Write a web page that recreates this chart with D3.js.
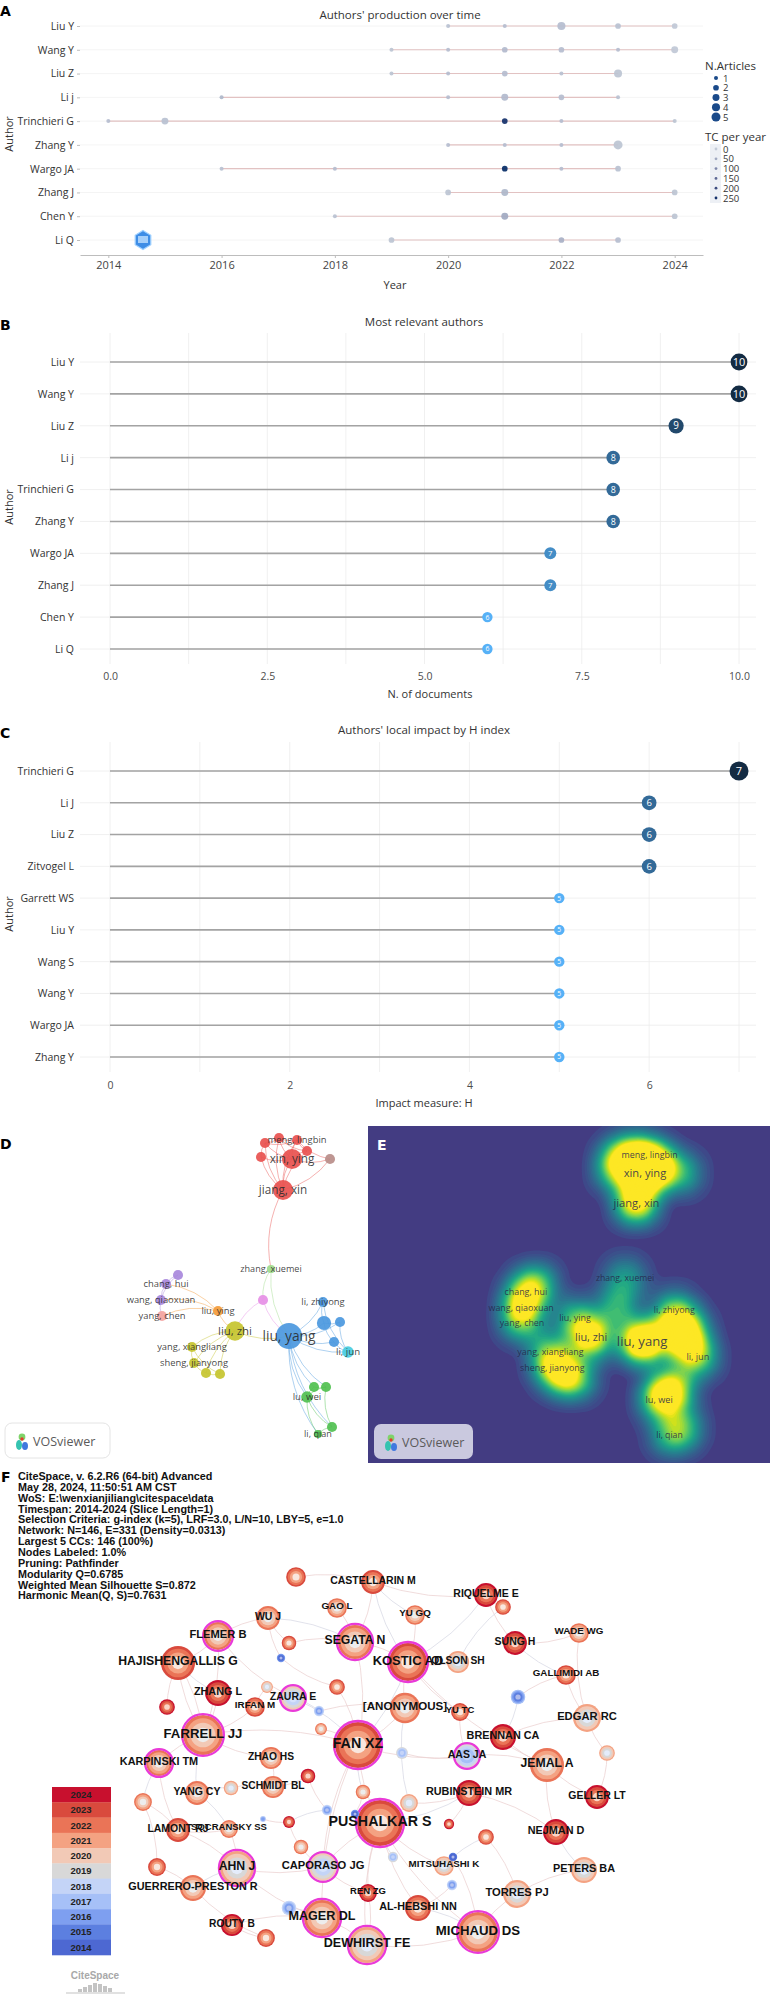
<!DOCTYPE html>
<html>
<head>
<meta charset="utf-8">
<script src="https://cdn.jsdelivr.net/npm/d3@7"></script>
<style>
body { margin: 0; background: #fff; }
</style>
</head>
<body>
<svg id="fig" width="770" height="1999"></svg>
<script>
// ---------- data: A, authors' production over time ----------
const prodAuthors = ["Liu Y","Wang Y","Liu Z","Li j","Trinchieri G","Zhang Y","Wargo JA","Zhang J","Chen Y","Li Q"];
// [author, year, articles, TC per year]
const prodPoints = [
  ["Liu Y",2020,1,15],["Liu Y",2021,1,20],["Liu Y",2022,4,20],["Liu Y",2023,2,15],["Liu Y",2024,2,5],
  ["Wang Y",2019,1,10],["Wang Y",2020,1,20],["Wang Y",2021,2,25],["Wang Y",2022,2,20],["Wang Y",2023,1,20],["Wang Y",2024,3,5],
  ["Liu Z",2019,1,10],["Liu Z",2020,1,20],["Liu Z",2021,2,20],["Liu Z",2022,1,15],["Liu Z",2023,4,10],
  ["Li j",2016,1,30],["Li j",2020,1,20],["Li j",2021,3,25],["Li j",2022,2,20],["Li j",2023,1,15],
  ["Trinchieri G",2014,1,20],["Trinchieri G",2015,3,15],["Trinchieri G",2021,2,250],["Trinchieri G",2022,1,20],["Trinchieri G",2024,1,10],
  ["Zhang Y",2020,1,20],["Zhang Y",2021,1,20],["Zhang Y",2022,1,20],["Zhang Y",2023,5,10],
  ["Wargo JA",2016,1,15],["Wargo JA",2018,1,20],["Wargo JA",2021,2,260],["Wargo JA",2022,1,20],["Wargo JA",2023,2,15],
  ["Zhang J",2020,2,10],["Zhang J",2021,3,30],["Zhang J",2024,2,10],
  ["Chen Y",2018,1,15],["Chen Y",2021,3,50],["Chen Y",2024,2,10],
  ["Li Q",2019,2,10],["Li Q",2022,2,40],["Li Q",2023,2,20]
];
const prodYearTicks = [2014,2016,2018,2020,2022,2024];
const articleLegend = [1,2,3,4,5];
const tcLegend = [0,50,100,150,200,250];

// ---------- B, most relevant authors ----------
const relAuthors = ["Liu Y","Wang Y","Liu Z","Li j","Trinchieri G","Zhang Y","Wargo JA","Zhang J","Chen Y","Li Q"];
const relDocs = [10,10,9,8,8,8,7,7,6,6];
const relTicks = [0,2.5,5,7.5,10];

// ---------- C, local impact by H index ----------
const hAuthors = ["Trinchieri G","Li J","Liu Z","Zitvogel L","Garrett WS","Liu Y","Wang S","Wang Y","Wargo JA","Zhang Y"];
const hIndex = [7,6,6,6,5,5,5,5,5,5];
const hTicks = [0,2,4,6];

// ---------- D / E, VOSviewer co-authorship map (layout units) ----------
// [id, label, x, y, weight, cluster]
const vosNodes = [
  ["r1","",115,13,1.5,"red"],["r2","",129,8,1.5,"red"],["meng","meng, lingbin",147,10,1.5,"red"],
  ["r4","",157,21,1.5,"red"],["r5","",111,27,1.5,"red"],["xin","xin, ying",142,29,6,"red"],
  ["br","",180,29,1.5,"brown"],["jiang","jiang, xin",133,60,6,"red"],
  ["zx","zhang, xuemei",121,139,1,"lgreen"],["pk","",113,170,1.5,"pink"],
  ["p1","",28,145,1.5,"purple"],["ch","chang, hui",16,154,1.5,"purple"],["wq","wang, qiaoxuan",11,170,1.5,"purple"],
  ["yc","yang, chen",12,186,1.5,"salmon"],["ly","liu, ying",68,181,1.5,"orange"],
  ["lz","liu, zhi",85,201,5.5,"olive"],["lyang","liu, yang",139,206,10,"blue"],
  ["lzy","li, zhiyong",173,172,1.5,"blue"],["b2","",174,193,3,"blue"],["b3","",190,192,1.5,"blue"],
  ["b4","",184,212,1.5,"blue"],["lj","li, jun",198,222,2,"cyan"],
  ["yx","yang, xiangliang",42,217,1.5,"olive"],["sj","sheng, jianyong",44,233,1.5,"olive"],
  ["o3","",56,243,1.5,"olive"],["o4","",70,244,1.5,"olive"],
  ["g1","",164,257,1.5,"green"],["g2","",176,257,1.5,"green"],["lw","lu, wei",157,267,2,"green"],
  ["g4","",182,297,1.5,"green"],["lq","li, qian",168,304,1,"green"]
];
const vosLinks = [
  ["r1","r2"],["r1","meng"],["r1","xin"],["r1","jiang"],["r1","r5"],["r2","meng"],["r2","xin"],["r2","jiang"],
  ["meng","xin"],["meng","r4"],["meng","jiang"],["r4","xin"],["r4","jiang"],["r5","xin"],["r5","jiang"],
  ["xin","jiang"],["xin","br"],["jiang","br"],["meng","br"],["r2","r4"],
  ["jiang","zx"],["zx","lyang"],["zx","pk"],["pk","lz"],["pk","lyang"],["lz","lyang"],
  ["ly","lz"],["ly","ch"],["ly","yc"],["ly","wq"],["p1","ch"],["ch","wq"],["wq","yc"],["p1","wq"],
  ["lz","yx"],["lz","sj"],["lz","o3"],["lz","o4"],["yx","sj"],["sj","o3"],["o3","o4"],["yx","o4"],
  ["lyang","lzy"],["lyang","b2"],["lyang","b3"],["lyang","b4"],["lyang","lj"],["lzy","b2"],["b2","b3"],
  ["b2","b4"],["b4","lj"],["b3","lj"],["lzy","lj"],
  ["lyang","g1"],["lyang","g2"],["lyang","lw"],["lyang","g4"],["lyang","lq"],
  ["g1","g2"],["g1","lw"],["g2","lw"],["lw","g4"],["lw","lq"],["g4","lq"],["g2","g4"]
];

// ---------- F, CiteSpace co-citation network (layout units) ----------
const citeHeader = [
  "CiteSpace, v. 6.2.R6 (64-bit) Advanced",
  "May 28, 2024, 11:50:51 AM CST",
  "WoS: E:\\wenxianjiliang\\citespace\\data",
  "Timespan: 2014-2024 (Slice Length=1)",
  "Selection Criteria: g-index (k=5), LRF=3.0, L/N=10, LBY=5, e=1.0",
  "Network: N=146, E=331 (Density=0.0313)",
  "Largest 5 CCs: 146 (100%)",
  "Nodes Labeled: 1.0%",
  "Pruning: Pathfinder",
  "Modularity Q=0.6785",
  "Weighted Mean Silhouette S=0.872",
  "Harmonic Mean(Q, S)=0.7631"
];
const legendYears = [2024,2023,2022,2021,2020,2019,2018,2017,2016,2015,2014];
// [label, x, y, citations, year, high centrality]
const citeNodes = [
  ["CASTELLARIN M",243,12,16,2023,0],["",166,7,11,2023,0],["RIQUELME E",356,25,16,2024,0],["",373,37,7,2023,0],
  ["GAO L",207,38,11,2022,0],["YU GQ",285,45,11,2022,0],["WU J",138,48,16,2022,0],["WADE WG",449,63,11,2022,0],
  ["FLEMER B",88,66,22,2022,1],["",159,73,6,2023,0],["SEGATA N",225,72,33,2022,1],["SUNG H",385,73,16,2024,0],
  ["",151,88,2,2016,0],["HAJISHENGALLIS G",48,93,33,2023,0],["KOSTIC AD",278,92,41,2023,1],["OLSON SH",328,92,14,2021,0],
  ["GALLIMIDI AB",436,105,11,2023,0],["",137,117,4,2021,0],["",207,117,7,2023,0],["ZHANG L",88,123,19,2024,0],
  ["ZAURA E",163,128,16,2020,1],["",388,127,6,2017,0],["IRFAN M",125,137,11,2023,0],["",37,137,7,2024,0],
  ["",189,141,3,2018,0],["[ANONYMOUS]",275,138,26,2022,0],["YU TC",330,142,9,2023,0],["EDGAR RC",457,148,22,2021,0],
  ["",191,159,4,2022,0],["FARRELL JJ",73,165,45,2022,1],["BRENNAN CA",373,167,19,2024,0],["FAN XZ",228,175,60,2023,1],
  ["",272,183,4,2019,0],["AAS JA",337,186,16,2019,1],["",477,183,7,2021,0],["ZHAO HS",141,188,14,2022,0],
  ["KARPINSKI TM",29,193,19,2022,1],["JEMAL A",417,195,33,2022,0],["",178,206,6,2024,0],["SCHMIDT BL",143,217,14,2022,0],
  ["",101,218,6,2021,0],["YANG CY",67,223,16,2022,0],["",233,222,6,2022,0],["RUBINSTEIN MR",339,223,19,2024,0],
  ["GELLER LT",467,227,16,2024,0],["",13,232,9,2022,0],["",279,233,9,2021,0],["",197,240,3,2018,0],
  ["",225,244,2,2016,0],["",159,252,4,2024,0],["",133,249,1,2018,0],["PUSHALKAR S",250,253,60,2023,1],
  ["LAMONT RJ",48,260,16,2023,0],["SOCRANSKY SS",99,259,9,2022,0],["",319,254,3,2024,0],["NEJMAN D",426,262,19,2024,0],
  ["",356,267,7,2023,0],["",171,277,6,2022,0],["",263,287,3,2019,0],["",323,287,2,2015,0],
  ["MITSUHASHI K",314,296,11,2021,0],["AHN J",107,298,33,2021,1],["CAPORASO JG",193,297,22,2020,1],["",27,297,9,2023,0],
  ["PETERS BA",454,300,19,2021,0],["",322,315,3,2018,0],["GUERRERO-PRESTON R",63,318,19,2022,0],["REN ZG",238,323,9,2024,0],
  ["TORRES PJ",387,324,22,2021,0],["",159,338,6,2018,0],["AL-HEBSHI NN",288,338,19,2023,0],["MAGER DL",192,348,37,2022,1],
  ["ROUTY B",102,355,14,2024,0],["MICHAUD DS",348,362,45,2022,1],["",136,368,9,2023,0],["DEWHIRST FE",237,375,37,2021,1]
];
const citeLinks = [
  [31,14],[31,10],[31,51],[31,25],[31,29],[31,20],[31,62],[31,71],[31,18],[31,28],[31,42],[31,33],
  [51,73],[51,70],[51,67],[51,43],[51,46],[51,62],[51,75],[51,60],[51,58],
  [14,15],[14,5],[14,25],[14,10],[14,2],[14,26],[10,4],[10,9],[10,0],[10,6],
  [29,13],[29,19],[29,36],[29,35],[29,41],[29,22],[29,8],[13,8],[13,23],[13,19],[6,8],[6,9],[6,12],
  [0,1],[0,5],[0,2],[2,3],[2,11],[11,7],[11,16],[16,21],[16,27],[27,34],[27,30],[30,21],[30,37],
  [37,44],[37,55],[37,33],[55,64],[55,43],[64,68],[68,56],[68,73],[73,70],[73,59],[70,65],[75,71],
  [75,67],[71,69],[71,72],[72,74],[66,74],[66,63],[61,66],[61,53],[61,62],[52,45],[52,53],[53,41],
  [39,40],[39,35],[39,38],[38,47],[47,49],[49,57],[57,62],[50,49],[54,43],[56,60],[26,33],[32,33],
  [46,43],[25,24],[24,20],[17,22],[17,20],[48,42],[40,41],[36,45],[63,45],[61,52],[44,34],[7,27],
  [3,15],[12,18],[13,29],[8,20],[14,37],[25,46],[61,71],[75,73],[62,67],[36,52],[0,14]
];

// ---------- page ----------
const svg = d3.select("#fig");
svg.append("rect").attr("width", 770).attr("height", 1999).attr("fill", "#fff");
const SANS = "'Open Sans', sans-serif";
const ARIAL = "'Liberation Sans', Arial, sans-serif";

function panelLetter(t, x, y, fill) {
  svg.append("text").attr("x", x).attr("y", y).text(t)
    .attr("font-family", "'DejaVu Sans', sans-serif").attr("font-weight", "bold")
    .attr("font-size", 14).attr("fill", fill || "#000");
}

// ================= A =================
const ax = d3.scaleLinear().domain([2013.5, 2024.5]).range([80, 703]);
const ay = d3.scalePoint().domain(prodAuthors).range([26, 240]);
const ar = d3.scaleSqrt().domain([0, 5]).range([0, 4.5]);
const ac = d3.scaleLinear().domain([0, 250]).range(["#c3cbd8", "#13306a"]).interpolate(d3.interpolateLab);
const gA = svg.append("g");

gA.selectAll("line.row").data(prodAuthors).join("line").attr("class", "row")
  .attr("x1", 80).attr("x2", 703).attr("y1", d => ay(d)).attr("y2", d => ay(d))
  .attr("stroke", "#f1f1f1").attr("stroke-width", 0.8);

const spans = d3.rollups(prodPoints, v => d3.extent(v, d => d[1]), d => d[0]);
gA.selectAll("line.span").data(spans).join("line").attr("class", "span")
  .attr("x1", d => ax(d[1][0])).attr("x2", d => ax(d[1][1]))
  .attr("y1", d => ay(d[0])).attr("y2", d => ay(d[0]))
  .attr("stroke", "#e2c2c2").attr("stroke-width", 1.1);

gA.selectAll("circle.pt").data(prodPoints).join("circle").attr("class", "pt")
  .attr("cx", d => ax(d[1])).attr("cy", d => ay(d[0]))
  .attr("r", d => ar(d[2])).attr("fill", d => ac(d[3])).attr("opacity", 0.92);

gA.append("g").attr("transform", "translate(0,255)")
  .call(d3.axisBottom(ax).tickValues(prodYearTicks).tickFormat(d3.format("d")).tickSize(3).tickSizeOuter(0))
  .attr("font-family", SANS).attr("font-size", 11)
  .call(g => {
    g.select(".domain").attr("stroke", "#bdbdbd");
    g.selectAll(".tick line").attr("stroke", "#bdbdbd");
    g.selectAll("text").attr("fill", "#444");
  });
gA.append("g").attr("transform", "translate(80,0)")
  .call(d3.axisLeft(ay).tickSize(3))
  .attr("font-family", SANS).attr("font-size", 10.5)
  .call(g => {
    g.select(".domain").remove();
    g.selectAll(".tick line").attr("stroke", "#bdbdbd");
    g.selectAll("text").attr("fill", "#333");
  });

gA.append("text").attr("x", 400).attr("y", 19).attr("text-anchor", "middle")
  .attr("font-family", SANS).attr("font-size", 11.5).attr("fill", "#333").text("Authors' production over time");
gA.append("text").attr("x", 395).attr("y", 289).attr("text-anchor", "middle")
  .attr("font-family", SANS).attr("font-size", 11).attr("fill", "#333").text("Year");
gA.append("text").attr("transform", "translate(13,134) rotate(-90)").attr("text-anchor", "middle")
  .attr("font-family", SANS).attr("font-size", 11).attr("fill", "#333").text("Author");

// badge next to Li Q
const hex = d3.range(6).map(i => {
  const a = Math.PI / 3 * i - Math.PI / 2;
  return [143 + 9 * Math.cos(a), 240 + 9.5 * Math.sin(a)];
});
gA.append("path").attr("d", "M" + hex.join("L") + "Z").attr("fill", "#3e8de6").attr("stroke", "#9fd0ff").attr("stroke-width", 1.2);
gA.append("rect").attr("x", 138).attr("y", 236).attr("width", 10).attr("height", 7).attr("fill", "#bfe0ff").attr("opacity", 0.8);

// legend A
const legA = gA.append("g").attr("font-family", SANS);
legA.append("text").attr("x", 705).attr("y", 70).attr("font-size", 11.5).attr("fill", "#333").text("N.Articles");
const artY = d3.scalePoint().domain(articleLegend).range([78, 117]);
legA.selectAll("circle.la").data(articleLegend).join("circle").attr("class", "la")
  .attr("cx", 716).attr("cy", d => artY(d)).attr("r", d => ar(d)).attr("fill", "#1a4a8a");
legA.selectAll("text.la").data(articleLegend).join("text").attr("class", "la")
  .attr("x", 723).attr("y", d => artY(d) + 3.5).attr("font-size", 9.5).attr("fill", "#333").text(d => d);
legA.append("text").attr("x", 705).attr("y", 141).attr("font-size", 11.5).attr("fill", "#333").text("TC per year");
const tcY = d3.scalePoint().domain(tcLegend).range([149, 198]);
legA.selectAll("rect.lt").data(tcLegend).join("rect").attr("class", "lt")
  .attr("x", 710).attr("y", d => tcY(d) - 5).attr("width", 11).attr("height", 10).attr("fill", "#edf0f5");
legA.selectAll("circle.lt").data(tcLegend).join("circle").attr("class", "lt")
  .attr("cx", 716).attr("cy", d => tcY(d)).attr("r", 1.4).attr("fill", d => ac(d));
legA.selectAll("text.lt").data(tcLegend).join("text").attr("class", "lt")
  .attr("x", 723).attr("y", d => tcY(d) + 3.5).attr("font-size", 9.5).attr("fill", "#333").text(d => d);

panelLetter("A", 0, 16);

// ================= B and C (lollipops) =================
function lollipop(o) {
  const x = d3.scaleLinear().domain(o.domain).range([110, 739]);
  const y = d3.scalePoint().domain(o.names).range(o.yRange);
  const col = d3.scaleLinear().domain(d3.extent(o.values)).range(["#56B1F7", "#132B43"]).interpolate(d3.interpolateLab);
  const rad = d3.scaleLinear().domain(d3.extent(o.values)).range(o.rRange);
  const rows = o.names.map((n, i) => ({ name: n, v: o.values[i] }));
  const g = svg.append("g");

  g.selectAll("line.gv").data(o.grid).join("line").attr("class", "gv")
    .attr("x1", d => x(d)).attr("x2", d => x(d)).attr("y1", o.gridTop).attr("y2", o.gridBottom)
    .attr("stroke", "#ececec").attr("stroke-width", 0.8);
  g.selectAll("line.gh").data(o.names).join("line").attr("class", "gh")
    .attr("x1", 80).attr("x2", 756).attr("y1", d => y(d)).attr("y2", d => y(d))
    .attr("stroke", "#ececec").attr("stroke-width", 0.8);
  g.selectAll("line.stem").data(rows).join("line").attr("class", "stem")
    .attr("x1", x(0)).attr("x2", d => x(d.v)).attr("y1", d => y(d.name)).attr("y2", d => y(d.name))
    .attr("stroke", "#a3a3a3").attr("stroke-width", 1.6);
  g.selectAll("circle.dot").data(rows).join("circle").attr("class", "dot")
    .attr("cx", d => x(d.v)).attr("cy", d => y(d.name)).attr("r", d => rad(d.v)).attr("fill", d => col(d.v));
  g.selectAll("text.val").data(rows).join("text").attr("class", "val")
    .attr("x", d => x(d.v)).attr("y", d => y(d.name)).attr("dy", "0.36em").attr("text-anchor", "middle")
    .attr("font-family", SANS).attr("font-size", d => Math.min(11, rad(d.v) * 1.3)).attr("fill", "#fff").text(d => d.v);

  g.append("g").attr("transform", `translate(0,${o.axisY})`)
    .call(d3.axisBottom(x).tickValues(o.ticks).tickFormat(o.fmt).tickSize(0))
    .attr("font-family", SANS).attr("font-size", 10.5)
    .call(a => { a.select(".domain").remove(); a.selectAll("text").attr("fill", "#4d4d4d"); });
  g.append("g").attr("transform", "translate(77,0)")
    .call(d3.axisLeft(y).tickSize(0))
    .attr("font-family", SANS).attr("font-size", 10.5)
    .call(a => { a.select(".domain").remove(); a.selectAll("text").attr("fill", "#333"); });

  g.append("text").attr("x", 424).attr("y", o.titleY).attr("text-anchor", "middle")
    .attr("font-family", SANS).attr("font-size", 11.5).attr("fill", "#333").text(o.title);
  g.append("text").attr("x", o.xLabelX).attr("y", o.xLabelY).attr("text-anchor", "middle")
    .attr("font-family", SANS).attr("font-size", 11).attr("fill", "#333").text(o.xLabel);
  g.append("text").attr("transform", `translate(13,${o.authorY}) rotate(-90)`).attr("text-anchor", "middle")
    .attr("font-family", SANS).attr("font-size", 11).attr("fill", "#333").text("Author");
}

lollipop({
  names: relAuthors, values: relDocs, domain: [0, 10], yRange: [362, 649], rRange: [5.2, 8.4],
  grid: d3.range(0, 10.01, 1.25), gridTop: 333, gridBottom: 664, ticks: relTicks, fmt: d3.format(".1f"),
  axisY: 670, title: "Most relevant authors", titleY: 326, xLabel: "N. of documents", xLabelX: 430, xLabelY: 698, authorY: 507
});
panelLetter("B", 0, 330);

lollipop({
  names: hAuthors, values: hIndex, domain: [0, 7], yRange: [771, 1057], rRange: [5.2, 9.5],
  grid: d3.range(0, 7.01, 1), gridTop: 742, gridBottom: 1072, ticks: hTicks, fmt: d3.format("d"),
  axisY: 1079, title: "Authors' local impact by H index", titleY: 734, xLabel: "Impact measure: H", xLabelX: 424, xLabelY: 1107, authorY: 914
});
panelLetter("C", 0, 738);

// ================= D (VOSviewer network) =================
const vosColors = {
  red: "#e8514f", brown: "#b98d89", lgreen: "#9fdb8c", pink: "#e68fe6", purple: "#a888dc", salmon: "#f3a3a0",
  orange: "#f39b3a", olive: "#c5c42f", blue: "#4b98de", cyan: "#47cce0", green: "#50c050"
};
const vos = vosNodes.map(d => ({ id: d[0], label: d[1], lx: d[2], ly: d[3], w: d[4], c: d[5] }));
const vosById = new Map(vos.map(d => [d.id, d]));
const dx = d3.scaleLinear().domain([0, 220]).range([150, 370]);
const dy = d3.scaleLinear().domain([0, 320]).range([1130, 1450]);
const vr = d3.scaleSqrt().domain([0, 10]).range([0, 13]);
const vFont = w => 8.6 + 0.52 * w;

function bend(x1, y1, x2, y2, k) {
  const mx = (x1 + x2) / 2, my = (y1 + y2) / 2;
  return `M${x1},${y1}Q${mx - (y2 - y1) * k},${my + (x2 - x1) * k} ${x2},${y2}`;
}

const gD = svg.append("g");
gD.selectAll("path.link").data(vosLinks).join("path").attr("class", "link")
  .attr("d", d => {
    const s = vosById.get(d[0]), t = vosById.get(d[1]);
    return bend(dx(s.lx), dy(s.ly), dx(t.lx), dy(t.ly), 0.18);
  })
  .attr("fill", "none").attr("stroke", d => vosColors[vosById.get(d[0]).c])
  .attr("stroke-opacity", 0.5).attr("stroke-width", 0.9);
gD.selectAll("circle.node").data(vos).join("circle").attr("class", "node")
  .attr("cx", d => dx(d.lx)).attr("cy", d => dy(d.ly)).attr("r", d => vr(d.w))
  .attr("fill", d => vosColors[d.c]).attr("fill-opacity", 0.92);
gD.selectAll("text.lab").data(vos.filter(d => d.label)).join("text").attr("class", "lab")
  .attr("x", d => dx(d.lx)).attr("y", d => dy(d.ly)).attr("dy", "0.35em").attr("text-anchor", "middle")
  .attr("font-family", SANS).attr("font-size", d => vFont(d.w)).attr("fill", "#2b2b2b").attr("fill-opacity", 0.88)
  .text(d => d.label);

function vosLogo(x, y, w, fill, stroke) {
  const g = svg.append("g");
  g.append("rect").attr("x", x).attr("y", y).attr("width", w).attr("height", 35).attr("rx", 7)
    .attr("fill", fill).attr("stroke", stroke);
  const ic = g.append("g").attr("transform", `translate(${x + 17},${y + 18})`);
  ic.append("ellipse").attr("cx", -3).attr("cy", 4).attr("rx", 3).attr("ry", 5).attr("fill", "#35c3b0");
  ic.append("ellipse").attr("cx", 3).attr("cy", 5).attr("rx", 3).attr("ry", 4).attr("fill", "#3f78df");
  ic.append("circle").attr("cx", 0).attr("cy", -4).attr("r", 3.4).attr("fill", "#7fd36a");
  ic.append("circle").attr("cx", 0).attr("cy", -2).attr("r", 1.7).attr("fill", "#e53a2f");
  g.append("text").attr("x", x + 28).attr("y", y + 23).attr("font-family", SANS).attr("font-size", 12.5)
    .attr("fill", "#5a5a5a").text("VOSviewer");
}
vosLogo(5, 1423, 105, "#fff", "#e4e4e4");
panelLetter("D", 0, 1149);

// ================= E (density view) =================
const E = { x: 368, y: 1126, w: 402, h: 337 };
const ex = d3.scaleLinear().domain([0, 220]).range([510.75, 718.65]);
const ey = d3.scaleLinear().domain([0, 320]).range([1145.5, 1450.5]);
svg.append("clipPath").attr("id", "eclip").append("rect")
  .attr("x", E.x).attr("y", E.y).attr("width", E.w).attr("height", E.h);
const gE = svg.append("g").attr("clip-path", "url(#eclip)");
gE.append("rect").attr("x", E.x).attr("y", E.y).attr("width", E.w).attr("height", E.h).attr("fill", "#433c82");

const dens = d3.contourDensity()
  .x(d => ex(d.lx) - E.x).y(d => ey(d.ly) - E.y)
  .weight(d => Math.pow(d.w, 0.55))
  .size([E.w, E.h]).cellSize(2).bandwidth(13.5);
const maxV = d3.max(dens.thresholds(25)(vos), c => c.value);
const levels = d3.range(1, 70).map(i => maxV * 1.15 * i / 70);
const contours = dens.thresholds(levels)(vos);
const dcol = v => d3.interpolateViridis(0.19 + 0.81 * Math.min(1, v / (maxV * 0.45)));
gE.append("g").attr("transform", `translate(${E.x},${E.y})`)
  .selectAll("path").data(contours).join("path")
  .attr("d", d3.geoPath()).attr("fill", d => dcol(d.value));
gE.selectAll("text.lab").data(vos.filter(d => d.label)).join("text").attr("class", "lab")
  .attr("x", d => ex(d.lx)).attr("y", d => ey(d.ly)).attr("dy", "0.35em").attr("text-anchor", "middle")
  .attr("font-family", SANS).attr("font-size", d => vFont(d.w) * 0.95).attr("fill", "#26264a").attr("fill-opacity", 0.85)
  .text(d => d.label);
vosLogo(374, 1424, 99, "#cac9df", "none");
panelLetter("E", 377, 1150, "#fff");

// ================= F (CiteSpace) =================
const cite = citeNodes.map(d => ({ label: d[0], lx: d[1], ly: d[2], n: d[3], year: d[4], central: d[5] }));
const fx = d3.scaleLinear().domain([0, 500]).range([130, 630]);
const fy = d3.scaleLinear().domain([0, 430]).range([1570, 2000]);
const fr = d3.scaleSqrt().domain([0, 60]).range([0, 23]);
const yearColor = d3.scaleOrdinal().domain(legendYears)
  .range(["#c8102e","#d94a3d","#ea7457","#f4a282","#f2c9b6","#d8d8d8","#c4d4f7","#a6c0f7","#7e9ff0","#5c7fe0","#4d68d2"]);

const gF = svg.append("g");
gF.selectAll("path.link").data(citeLinks).join("path").attr("class", "link")
  .attr("d", d => {
    const s = cite[d[0]], t = cite[d[1]];
    return bend(fx(s.lx), fy(s.ly), fx(t.lx), fy(t.ly), 0.12);
  })
  .attr("fill", "none").attr("stroke", (d, i) => i % 5 === 0 ? "#d9dbe6" : "#ecd3d3")
  .attr("stroke-width", 0.8);

const ringFr = [1, 0.84, 0.62, 0.36];
const nodesSorted = cite.slice().sort((a, b) => b.n - a.n);
const gNodes = gF.selectAll("g.node").data(nodesSorted).join("g").attr("class", "node")
  .attr("transform", d => `translate(${fx(d.lx)},${fy(d.ly)})`);
gNodes.each(function (d) {
  const g = d3.select(this), r = fr(d.n);
  ringFr.forEach((f, i) => {
    const yr = Math.max(2014, d.year - i);
    let c = yearColor(yr);
    if (i === 3) c = d3.interpolateRgb(c, "#ffffff")(0.55);
    if (r * f > 1.2) g.append("circle").attr("r", r * f).attr("fill", c);
  });
  if (d.central) g.append("circle").attr("r", r + 1).attr("fill", "none")
    .attr("stroke", "#e93ad8").attr("stroke-width", 2.3);
});
const fFont = n => 6.5 + Math.sqrt(n);
gF.selectAll("text.lab").data(cite.filter(d => d.label)).join("text").attr("class", "lab")
  .attr("x", d => fx(d.lx)).attr("y", d => fy(d.ly) - 2).attr("dy", "0.35em").attr("text-anchor", "middle")
  .attr("font-family", ARIAL).attr("font-weight", "bold")
  .attr("font-size", d => fFont(d.n)).attr("fill", "#111").text(d => d.label);

// header
gF.selectAll("text.hdr").data(citeHeader).join("text").attr("class", "hdr")
  .attr("x", 18).attr("y", (d, i) => 1480 + i * 10.85)
  .attr("font-family", ARIAL).attr("font-weight", "bold")
  .attr("font-size", 10.8).attr("fill", "#111").text(d => d);

// year legend
const ly = d3.scaleBand().domain(legendYears).range([1787, 1955]);
gF.selectAll("rect.leg").data(legendYears).join("rect").attr("class", "leg")
  .attr("x", 52).attr("y", d => ly(d)).attr("width", 59).attr("height", ly.bandwidth() + 0.3)
  .attr("fill", d => yearColor(d));
gF.selectAll("text.leg").data(legendYears).join("text").attr("class", "leg")
  .attr("x", 81).attr("y", d => ly(d) + ly.bandwidth() / 2).attr("dy", "0.35em").attr("text-anchor", "middle")
  .attr("font-family", ARIAL).attr("font-weight", "bold")
  .attr("font-size", 9.5).attr("fill", "#222").text(d => d);

// CiteSpace logo
const logo = gF.append("g");
logo.append("text").attr("x", 95).attr("y", 1979).attr("text-anchor", "middle")
  .attr("font-family", ARIAL).attr("font-weight", "bold")
  .attr("font-size", 10).attr("fill", "#a8a8a8").text("CiteSpace");
const bars = [3, 5, 7, 9, 8, 6, 4];
logo.selectAll("rect").data(bars).join("rect")
  .attr("x", (d, i) => 78 + i * 5).attr("y", d => 1992 - d).attr("width", 4).attr("height", d => d)
  .attr("fill", "#c4c4c4");
logo.append("line").attr("x1", 66).attr("x2", 125).attr("y1", 1993).attr("y2", 1993)
  .attr("stroke", "#c4c4c4").attr("stroke-width", 1.2);

panelLetter("F", 1, 1482);
</script>
</body>
</html>
